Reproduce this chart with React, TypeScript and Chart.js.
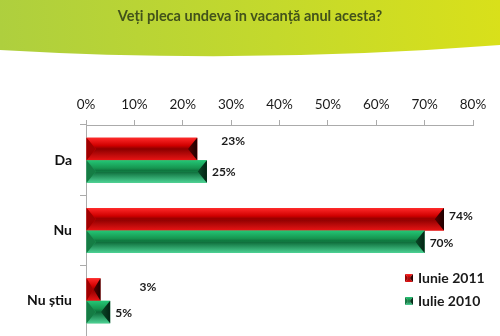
import React, { useEffect, useRef } from "react";
import { Chart, registerables } from "chart.js";

Chart.register(...registerables);

const titleText = "Veți pleca undeva în vacanță anul acesta?";
const categories = ["Da", "Nu", "Nu știu"];
const seriesNames = ["Iunie 2011", "Iulie 2010"];
const iunie2011 = [23, 74, 3];
const iulie2010 = [25, 70, 5];
const axisMin = 0;
const axisMax = 80;
const axisStep = 10;

// label nudges (px) for the red series, as placed in the original
const redLabelDx = [24, 5, 39];
const redLabelDy = [-8, -3, -2];

const FONT = "Lato, 'Open Sans', sans-serif";

type Pal = { base: string; topA: string; topB: string; botA: string; botB: string; left: string; rightA: string; rightB: string };

const RED: Pal = {
  base: "#e00000",
  topA: "#ff2a2a",
  topB: "#d00000",
  botA: "#8c0000",
  botB: "#e81414",
  left: "#a00000",
  rightA: "#5a0000",
  rightB: "#1e0000",
};
const GREEN: Pal = {
  base: "#1fb062",
  topA: "#24c776",
  topB: "#169650",
  botA: "#0c6a38",
  botB: "#4cd294",
  left: "#157c44",
  rightA: "#0a4a28",
  rightB: "#032414",
};
const palettes = [RED, GREEN];

function drawBevel(ctx: CanvasRenderingContext2D, L: number, R: number, T: number, B: number, p: Pal) {
  const h = B - T;
  const w = R - L;
  if (w <= 0 || h <= 0) return;
  const mid = (T + B) / 2;
  const dx = Math.min(h * 0.42, w / 2);
  ctx.save();
  let g = ctx.createLinearGradient(0, T, 0, mid);
  g.addColorStop(0, p.topA);
  g.addColorStop(0.7, p.topB);
  g.addColorStop(1, p.botA);
  ctx.fillStyle = g;
  ctx.beginPath();
  ctx.moveTo(L, T);
  ctx.lineTo(R, T);
  ctx.lineTo(R - dx, mid);
  ctx.lineTo(L + dx, mid);
  ctx.closePath();
  ctx.fill();
  g = ctx.createLinearGradient(0, mid, 0, B);
  g.addColorStop(0, p.botA);
  g.addColorStop(1, p.botB);
  ctx.fillStyle = g;
  ctx.beginPath();
  ctx.moveTo(L + dx, mid);
  ctx.lineTo(R - dx, mid);
  ctx.lineTo(R, B);
  ctx.lineTo(L, B);
  ctx.closePath();
  ctx.fill();
  ctx.fillStyle = p.left;
  ctx.beginPath();
  ctx.moveTo(L, T);
  ctx.lineTo(L + dx, mid);
  ctx.lineTo(L, B);
  ctx.closePath();
  ctx.fill();
  g = ctx.createLinearGradient(R - dx, 0, R, 0);
  g.addColorStop(0, p.rightA);
  g.addColorStop(1, p.rightB);
  ctx.fillStyle = g;
  ctx.beginPath();
  ctx.moveTo(R, T);
  ctx.lineTo(R - dx, mid);
  ctx.lineTo(R, B);
  ctx.closePath();
  ctx.fill();
  ctx.restore();
}

const bannerPlugin = {
  id: "banner",
  beforeDraw(chart: any) {
    const ctx: CanvasRenderingContext2D = chart.ctx;
    const W = chart.width;
    ctx.save();
    ctx.fillStyle = "#ffffff";
    ctx.fillRect(0, 0, W, chart.height);
    const g = ctx.createLinearGradient(0, 40, W, 0);
    g.addColorStop(0, "#aecf3e");
    g.addColorStop(0.55, "#c4d92c");
    g.addColorStop(1, "#d9e01a");
    ctx.fillStyle = g;
    ctx.beginPath();
    ctx.moveTo(0, 0);
    ctx.lineTo(W, 0);
    ctx.lineTo(W, 45);
    ctx.quadraticCurveTo(W / 2, 64.5, 0, 50);
    ctx.closePath();
    ctx.fill();
    ctx.fillStyle = "#42521a";
    ctx.font = `bold 14.5px ${FONT}`;
    ctx.textAlign = "center";
    ctx.textBaseline = "middle";
    ctx.fillText(titleText, W / 2, 16);
    ctx.restore();
  },
};

const bevelPlugin = {
  id: "bevelBars",
  afterDatasetsDraw(chart: any) {
    const ctx: CanvasRenderingContext2D = chart.ctx;
    chart.data.datasets.forEach((ds: any, i: number) => {
      const meta = chart.getDatasetMeta(i);
      meta.data.forEach((bar: any, j: number) => {
        const { x, y, base, height } = bar.getProps(["x", "y", "base", "height"], true);
        drawBevel(ctx, Math.min(base, x), Math.max(base, x), y - height / 2, y + height / 2, palettes[i]);
        const v = ds.data[j];
        const dx = i === 0 ? redLabelDx[j] : 5;
        const dy = i === 0 ? redLabelDy[j] : 1;
        ctx.save();
        ctx.fillStyle = "#1a1a1a";
        ctx.font = `bold 12px ${FONT}`;
        ctx.textAlign = "left";
        ctx.textBaseline = "middle";
        ctx.fillText(`${v}%`, x + dx, y + dy);
        ctx.restore();
      });
    });
    const area = chart.chartArea;
    const lx = area.right - 68;
    const ly = [area.bottom - 58, area.bottom - 35];
    seriesNames.forEach((name, i) => {
      drawBevel(ctx, lx, lx + 8, ly[i] - 4, ly[i] + 4, palettes[i]);
      ctx.save();
      ctx.fillStyle = "#1a1a1a";
      ctx.font = `bold 14px ${FONT}`;
      ctx.textAlign = "left";
      ctx.textBaseline = "middle";
      ctx.fillText(name, lx + 13, ly[i]);
      ctx.restore();
    });
  },
};

export default function App() {
  const ref = useRef<HTMLCanvasElement | null>(null);
  useEffect(() => {
    document.body.style.margin = "0";
    const canvas = ref.current;
    if (!canvas) return;
    const chart = new Chart(canvas, {
      type: "bar",
      data: {
        labels: categories,
        datasets: [
          { label: seriesNames[0], data: iunie2011, backgroundColor: RED.base, borderWidth: 0 },
          { label: seriesNames[1], data: iulie2010, backgroundColor: GREEN.base, borderWidth: 0 },
        ],
      },
      options: {
        indexAxis: "y",
        responsive: false,
        animation: false,
        devicePixelRatio: 1,
        layout: { padding: { top: 95, right: 27, left: 0, bottom: 0 } },
        datasets: { bar: { categoryPercentage: 0.64, barPercentage: 1 } },
        plugins: {
          legend: { display: false },
          title: { display: false },
          tooltip: { enabled: false },
        },
        scales: {
          x: {
            position: "top",
            min: axisMin,
            max: axisMax,
            afterFit: (s: any) => {
              s.height = 30;
            },
            ticks: {
              stepSize: axisStep,
              callback: (v: any) => `${v}%`,
              color: "#1a1a1a",
              font: { family: FONT, size: 13.5 },
              padding: 7,
              maxRotation: 0,
            },
            grid: { drawOnChartArea: false, drawTicks: true, tickLength: 5, color: "#ababab" },
            border: { color: "#ababab" },
          },
          y: {
            afterFit: (s: any) => {
              s.width = 86;
              s.paddingTop = 0;
              s.paddingBottom = 0;
            },
            ticks: {
              color: "#111111",
              font: { family: FONT, size: 14, weight: "bold" },
              padding: 8,
            },
            grid: { offset: true, drawOnChartArea: false, drawTicks: true, tickLength: 6, color: "#ababab" },
            border: { color: "#ababab" },
          },
        },
      },
      plugins: [bannerPlugin, bevelPlugin],
    });
    return () => chart.destroy();
  }, []);
  return <canvas ref={ref} width={500} height={336} style={{ display: "block" }} />;
}
